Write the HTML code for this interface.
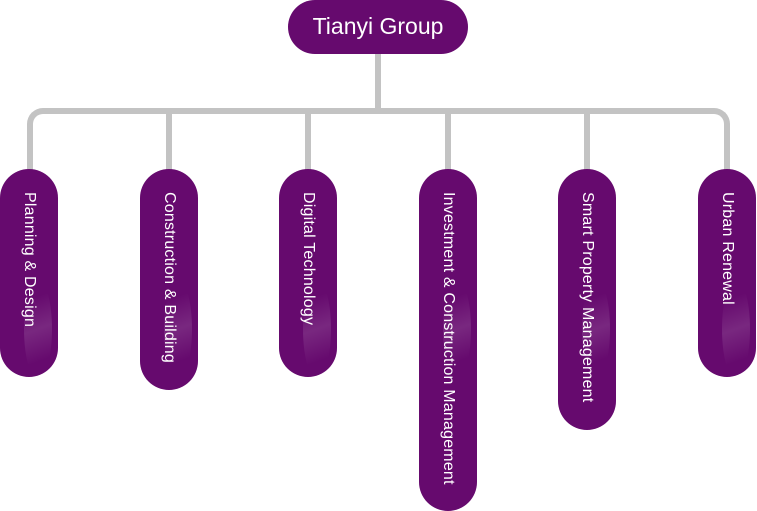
<!DOCTYPE html>
<html><head><style>
body{margin:0;width:757px;height:511px;background:#fff;position:relative;overflow:hidden;font-family:"Liberation Sans",sans-serif}
.top{position:absolute;left:288px;top:0;width:180px;height:54px;border-radius:27px;background:#660a6e;color:#fff;font-size:23px;line-height:52px;text-align:center}
.c{position:absolute;top:169px;width:58px;border-radius:29px;background:#660a6e;overflow:hidden}
.c::after{content:"";position:absolute;left:24px;top:110px;width:28px;height:100px;background:linear-gradient(160deg,rgba(255,255,255,0) 20%,rgba(255,255,255,.12) 50%,rgba(255,255,255,0) 80%);border-radius:50%}
.c span{position:absolute;left:20px;top:23px;writing-mode:vertical-rl;color:#fff;font-size:16px;letter-spacing:0.2px;white-space:nowrap;line-height:18px}
.l{position:absolute;background:#c3c3c3}
</style></head><body>
<div class="top">Tianyi Group</div>
<div class="l" style="left:375px;top:54px;width:6px;height:56px"></div>
<div style="position:absolute;left:27px;top:108px;width:703px;height:40px;border:6px solid #c3c3c3;border-bottom:none;border-radius:16px 16px 0 0;box-sizing:border-box"></div>
<div class="l" style="left:27px;top:140px;width:6px;height:30px"></div>
<div class="l" style="left:724px;top:140px;width:6px;height:30px"></div>
<div class="l" style="left:166px;top:110px;width:6px;height:60px"></div>
<div class="l" style="left:305px;top:110px;width:6px;height:60px"></div>
<div class="l" style="left:445px;top:110px;width:6px;height:60px"></div>
<div class="l" style="left:584px;top:110px;width:6px;height:60px"></div>
<div class="c" style="left:0;height:208px"><span>Planning &amp; Design</span></div>
<div class="c" style="left:140px;height:221px"><span>Construction &amp; Building</span></div>
<div class="c" style="left:279px;height:208px"><span>Digital Technology</span></div>
<div class="c" style="left:419px;height:342px"><span>Investment &amp; Construction Management</span></div>
<div class="c" style="left:558px;height:261px"><span>Smart Property Management</span></div>
<div class="c" style="left:698px;height:208px"><span>Urban Renewal</span></div>
</body></html>
